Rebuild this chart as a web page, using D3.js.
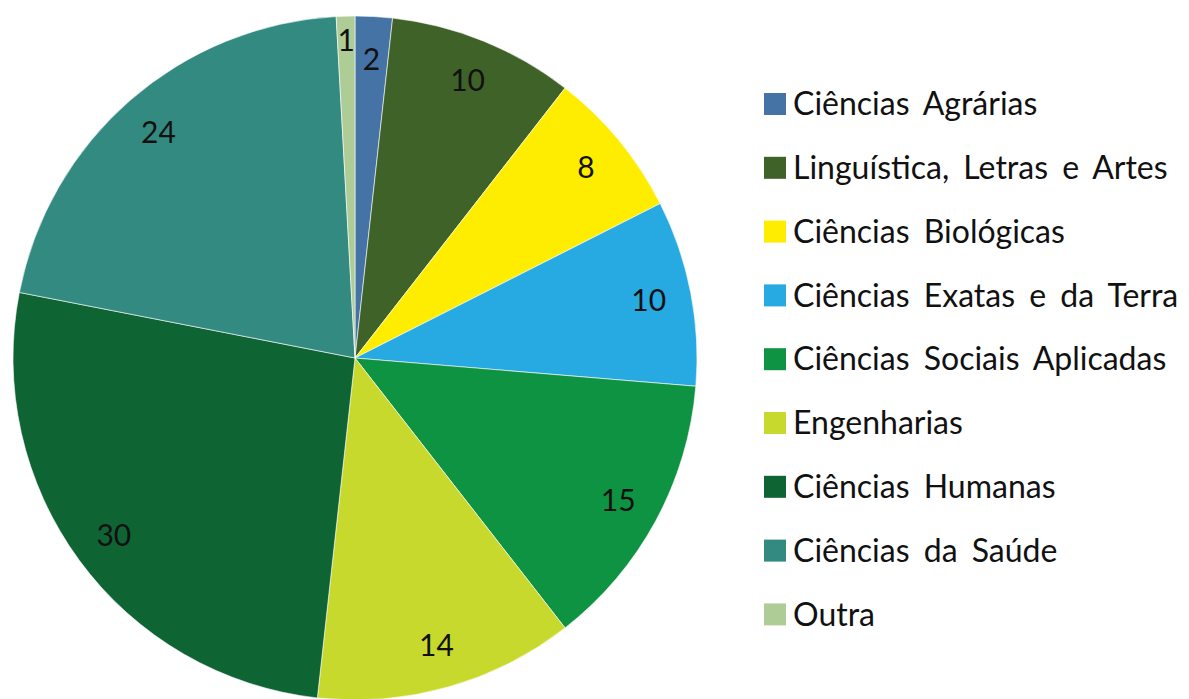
<!DOCTYPE html>
<html>
	<head>
		<meta charset="utf-8">
		<title>Áreas do conhecimento</title>
		<script src="https://cdnjs.cloudflare.com/ajax/libs/d3/7.8.5/d3.min.js"></script>
		<style type="text/css">
			body {
				margin: 0;
				background: #fff;
			}
			svg text {
				font-family: Lato, "Noto Sans", sans-serif;
				fill: #111;
			}
		</style>
	</head>
	<body>
		<div id="chart"></div>

		<script type="text/javascript">
			// the data
			var categories = [
				'Ciências Agrárias',
				'Linguística, Letras e Artes',
				'Ciências Biológicas',
				'Ciências Exatas e da Terra',
				'Ciências Sociais Aplicadas',
				'Engenharias',
				'Ciências Humanas',
				'Ciências da Saúde',
				'Outra'
			];
			var values = [2, 10, 8, 10, 15, 14, 30, 24, 1];
			var colors = ['#4673a6', '#3f6228', '#ffed00', '#27a9e1', '#0e9343', '#c8d92e', '#0f6434', '#338a80', '#adcc96'];

			var width = 1189, height = 699,
			    cx = 355, cy = 358, radius = 342;

			var svg = d3.select( '#chart' ).append( 'svg' )
			    .attr( 'width', width )
			    .attr( 'height', height );

			var color = d3.scaleOrdinal().domain( categories ).range( colors );

			var pie = d3.pie().sort( null ).value( function( d, i ) { return values[i]; } );
			var arcs = pie( categories );

			var arc = d3.arc().innerRadius( 0 ).outerRadius( radius );
			var labelArc = d3.arc().innerRadius( radius * 0.875 ).outerRadius( radius * 0.875 );

			var g = svg.append( 'g' ).attr( 'transform', 'translate(' + cx + ',' + cy + ')' );

			g.selectAll( 'path' )
			  .data( arcs )
			  .enter().append( 'path' )
			  .attr( 'd', arc )
			  .attr( 'fill', function( d ) { return color( d.data ); } )
			  .attr( 'stroke', 'rgba(255,255,255,0.6)' )
			  .attr( 'stroke-width', 1 );

			// value labels inside the slices
			g.selectAll( 'text.value' )
			  .data( arcs )
			  .enter().append( 'text' )
			  .attr( 'class', 'value' )
			  .attr( 'transform', function( d ) {
				var p = labelArc.centroid( d );
				// the tiny last slice sits a bit further out, as in the original
				if ( d.value < 2 ) p = [p[0] * 1.06, p[1] * 1.06];
				return 'translate(' + p + ')';
			  })
			  .attr( 'text-anchor', 'middle' )
			  .attr( 'dy', '0.35em' )
			  .style( 'font-size', '30px' )
			  .text( function( d ) { return d.value; } );

			// legend on the right
			var legend = svg.append( 'g' ).attr( 'transform', 'translate(764,104)' );
			var rowStep = 63.8;

			var item = legend.selectAll( 'g' )
			  .data( categories )
			  .enter().append( 'g' )
			  .attr( 'transform', function( d, i ) { return 'translate(0,' + ( i * rowStep ) + ')'; } );

			item.append( 'rect' )
			  .attr( 'x', 0 )
			  .attr( 'y', -11 )
			  .attr( 'width', 22 )
			  .attr( 'height', 22 )
			  .attr( 'fill', function( d ) { return color( d ); } );

			item.append( 'text' )
			  .attr( 'x', 29 )
			  .attr( 'dy', '0.35em' )
			  .style( 'font-size', '32px' )
			  .style( 'word-spacing', '6px' )
			  .text( function( d ) { return d; } );
		</script>
	</body>
</html>
